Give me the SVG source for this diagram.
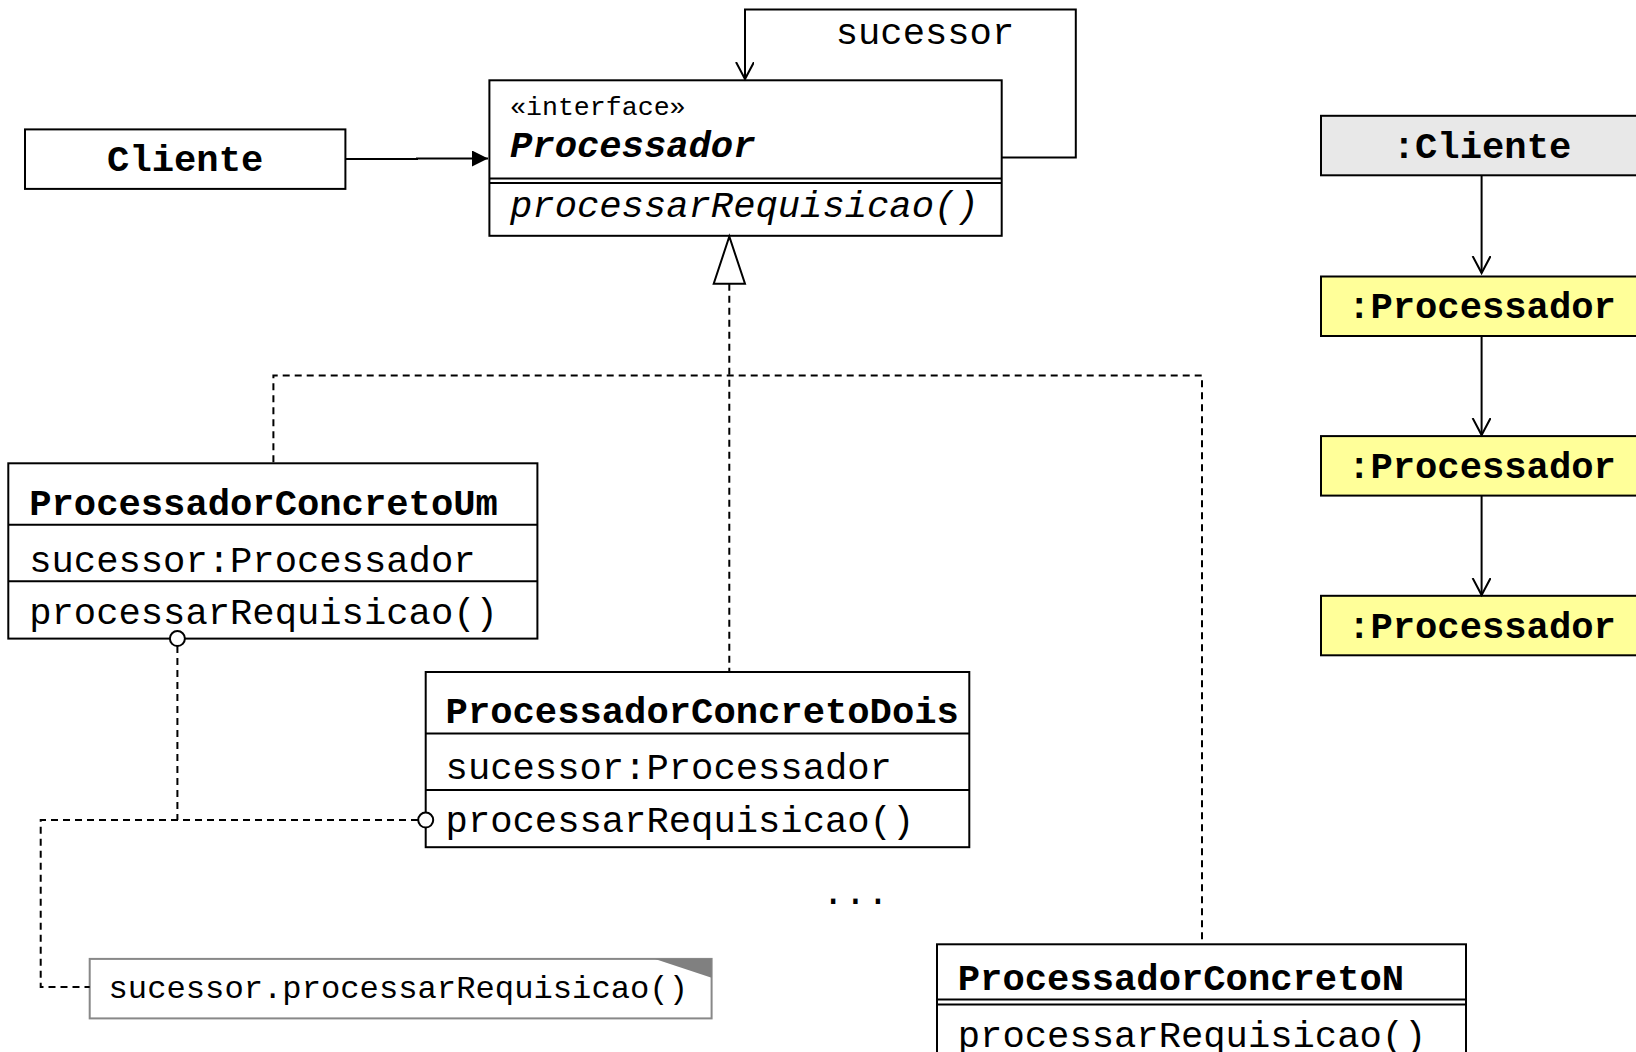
<svg xmlns="http://www.w3.org/2000/svg" width="1636" height="1052" viewBox="0 0 1636 1052">
<defs>
<style>
text{font-family:"Liberation Mono","Courier New",monospace;font-size:37.2px;fill:#000}
.b{font-weight:bold}
.bi{font-weight:bold;font-style:italic}
.i{font-style:italic}
.st{font-size:26.6px}
.note{font-size:32.2px}
.box{fill:#fff;stroke:#000;stroke-width:2}
.ln{stroke:#000;stroke-width:2;fill:none}
.dash{stroke:#000;stroke-width:2;fill:none;stroke-dasharray:7 5}
.obj{fill:#ffff99;stroke:#000;stroke-width:2}
.objc{fill:#e8e8e8;stroke:#000;stroke-width:2}
.port{fill:#fff;stroke:#000;stroke-width:2}
</style>
<marker id="open" markerWidth="20" markerHeight="20" refX="17" refY="9" orient="auto" markerUnits="userSpaceOnUse"><path d="M0,0 L17,9 L0,18" fill="none" stroke="#000" stroke-width="2"/></marker>
<marker id="fill" markerWidth="18" markerHeight="16" refX="16" refY="8" orient="auto" markerUnits="userSpaceOnUse"><path d="M0,0 L16,8 L0,16 Z" fill="#000"/></marker>
</defs>

<g id="cliente">
<rect class="box" x="25" y="129.4" width="320.4" height="59.5"/>
<text class="b" x="185.2" y="171" text-anchor="middle">Cliente</text>
</g>

<g id="processador">
<rect class="box" x="489.4" y="80.3" width="512.3" height="155.5"/>
<line class="ln" x1="489.4" y1="178.4" x2="1001.7" y2="178.4"/>
<line class="ln" x1="489.4" y1="183" x2="1001.7" y2="183"/>
<text class="st" x="510" y="114.7">«interface»</text>
<text class="bi" x="510" y="157.4">Processador</text>
<text class="i" x="510" y="216.9">processarRequisicao()</text>
</g>

<g id="pcUm">
<rect class="box" x="8.3" y="463.3" width="529.1" height="175.3"/>
<line class="ln" x1="8.3" y1="524.8" x2="537.4" y2="524.8"/>
<line class="ln" x1="8.3" y1="581.2" x2="537.4" y2="581.2"/>
<text class="b" x="29.2" y="515.4">ProcessadorConcretoUm</text>
<text x="29.2" y="571.8">sucessor:Processador</text>
<text x="29.2" y="624">processarRequisicao()</text>
</g>

<g id="pcDois">
<rect class="box" x="425.7" y="672" width="543.6" height="175.2"/>
<line class="ln" x1="425.7" y1="733.5" x2="969.3" y2="733.5"/>
<line class="ln" x1="425.7" y1="789.9" x2="969.3" y2="789.9"/>
<text class="b" x="445.6" y="723">ProcessadorConcretoDois</text>
<text x="445.6" y="779.4">sucessor:Processador</text>
<text x="445.6" y="832">processarRequisicao()</text>
</g>

<g id="dots">
<text x="822" y="904">...</text>
</g>

<g id="pcN">
<rect class="box" x="937" y="944.3" width="529" height="130"/>
<line class="ln" x1="937" y1="999.6" x2="1466" y2="999.6"/>
<line class="ln" x1="937" y1="1004.4" x2="1466" y2="1004.4"/>
<text class="b" x="957.8" y="990">ProcessadorConcretoN</text>
<text x="957.8" y="1046.5">processarRequisicao()</text>
</g>

<g id="nota">
<rect x="89.7" y="958.9" width="621.9" height="59.5" fill="#fff" stroke="#888" stroke-width="2"/>
<polygon points="655,958.9 711.6,958.9 711.6,977.7" fill="#808080"/>
<text class="note" x="108.5" y="997.5">sucessor.processarRequisicao()</text>
</g>

<g id="objCliente">
<rect class="objc" x="1321" y="115.8" width="330" height="59.5"/>
<text class="b" x="1482" y="157.5" text-anchor="middle">:Cliente</text>
</g>
<g id="objProc1">
<rect class="obj" x="1321" y="276.5" width="330" height="59.5"/>
<text class="b" x="1482" y="318.2" text-anchor="middle">:Processador</text>
</g>
<g id="objProc2">
<rect class="obj" x="1321" y="436.1" width="330" height="59.5"/>
<text class="b" x="1482" y="477.8" text-anchor="middle">:Processador</text>
</g>
<g id="objProc3">
<rect class="obj" x="1321" y="595.8" width="330" height="59.5"/>
<text class="b" x="1482" y="637.5" text-anchor="middle">:Processador</text>
</g>

<g id="connectors">
<path class="ln" d="M345,159 H417 V158.5 H488" marker-end="url(#fill)"/>
<path class="ln" d="M1002,157.6 H1075.8 V9.4 H745 V79" marker-end="url(#open)"/>
<text x="835.7" y="43.8">sucessor</text>
<path class="dash" d="M729.3,283.8 V671"/>
<path class="dash" d="M273.4,462.3 V375.6 H1202 V943.3"/>
<polygon points="729.3,236.5 713.7,283.8 745,283.8" fill="#fff" stroke="#000" stroke-width="2"/>
<path class="dash" d="M177.4,646 V820.1"/>
<path class="dash" d="M418,820.1 H40.7 V987 H89.7"/>
<circle class="port" cx="177.4" cy="638.6" r="7.5"/>
<circle class="port" cx="425.7" cy="820.1" r="7.5"/>
<path class="ln" d="M1481.6,175.3 V273" marker-end="url(#open)"/>
<path class="ln" d="M1481.6,336 V435" marker-end="url(#open)"/>
<path class="ln" d="M1481.6,495.6 V595" marker-end="url(#open)"/>
</g>
</svg>
